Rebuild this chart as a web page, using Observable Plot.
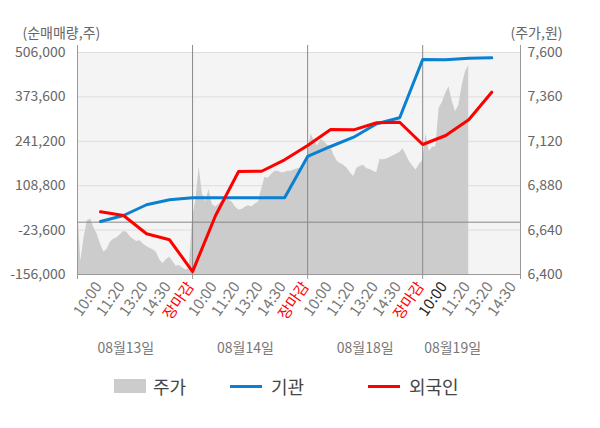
<!DOCTYPE html>
<html><head><meta charset="utf-8">
<script src="https://cdn.jsdelivr.net/npm/d3@7"></script>
<script src="https://cdn.jsdelivr.net/npm/@observablehq/plot@0.6"></script>
<style>
body{margin:0;background:#fff;font-family:"Noto Sans CJK KR","Noto Sans",sans-serif;}
#chart{position:relative;width:600px;height:428px;overflow:hidden;}
.lg{position:absolute;font-size:18px;color:#444;line-height:24px;top:374px;}
.sw{position:absolute;}
</style></head><body><div id="chart"></div>
<script>
const tickLabels = ["10:00","11:20","13:20","14:30","장마감","10:00","11:20","13:20","14:30","장마감","10:00","11:20","13:20","14:30","장마감","10:00","11:20","13:20","14:30"];
const dateLabels = ["08월13일","08월14일","08월18일","08월19일"];
const dateX = [2.1, 7.3, 12.5, 16.3];
const gigwan = [2000, 19900, 52000, 66800, 72700, 72700, 72700, 72700, 72700, 195900, 225700, 253400, 293400, 311300, 485100, 484100, 489000, 490000];
const oegugin = [31000, 20000, -34600, -52500, -147500, 20000, 151100, 151900, 186000, 228700, 276400, 275400, 296400, 298000, 231700, 258500, 305300, 387600];
const priceDay1 = [6784, 6470, 6600, 6690, 6700, 6652, 6618, 6565, 6522, 6535, 6575, 6590, 6598, 6615, 6632, 6628, 6605, 6590, 6578, 6582, 6565, 6552, 6542, 6534, 6520, 6480, 6460, 6480, 6494, 6470, 6445, 6448, 6435, 6424, 6430];
const priceDay2 = [6710, 6800, 6980, 6835, 6792, 6860, 6778, 6765, 6780, 6798, 6810, 6801, 6792, 6766, 6748, 6752, 6763, 6772, 6765, 6780, 6790, 6860, 6925, 6920, 6940, 6958, 6958, 6950, 6952, 6958, 6958, 6966, 6971, 6975, 6980];
const priceDay3 = [7040, 7160, 7125, 7095, 7128, 7120, 7100, 7090, 7045, 7012, 7000, 6990, 6975, 6950, 6930, 6974, 6985, 6990, 6971, 6968, 6958, 6950, 7022, 7020, 7024, 7032, 7040, 7050, 7060, 7080, 7045, 7010, 6985, 6965, 6995];
const priceDay4 = [7016, 7160, 7065, 7088, 7090, 7300, 7330, 7380, 7415, 7335, 7280, 7315, 7420, 7495, 7530];
const leftTicks = [-156000, -23600, 108800, 241200, 373600, 506000];
const rightTicks = [6400, 6640, 6880, 7120, 7360, 7600];

const yMin = leftTicks[0], yMax = leftTicks[leftTicks.length - 1];
const pMin = rightTicks[0], pMax = rightTicks[rightTicks.length - 1];
const toLeft = p => yMin + (p - pMin) * (yMax - yMin) / (pMax - pMin);
const fromLeft = v => pMin + (v - yMin) * (pMax - pMin) / (yMax - yMin);
const fmt = v => Math.round(v).toLocaleString("en-US");
const xMax = 19.25;
const perDay = 35;

const priceData = [];
[priceDay1, priceDay2, priceDay3, priceDay4].forEach((arr, d) => {
  arr.forEach((p, k) => priceData.push({x: 5 * d + k * 5 / perDay, p}));
});
const lineData = (arr) => arr.map((v, i) => ({x: i + 1, v}));
const tickData = tickLabels.map((t, i) => ({
  x: i + 1, t,
  c: t === "장마감" ? "#ff0000" : (i === 15 ? "#222222" : "#777777")
}));
const dateData = dateLabels.map((t, i) => ({x: dateX[i], t}));

const chart = Plot.plot({
  width: 600, height: 360,
  marginTop: 45, marginBottom: 86, marginLeft: 77, marginRight: 80,
  style: {fontFamily: '"Noto Sans CJK KR", sans-serif', fontSize: "14px", background: "transparent"},
  x: {domain: [0, xMax], axis: null},
  y: {domain: [yMin, yMax + 7 * (yMax - yMin) / 222], axis: null},
  marks: [
    Plot.rect([{}], {x1: () => 0, x2: () => xMax, y1: () => yMin, y2: () => yMax, fill: "#f4f4f4"}),
    Plot.ruleY(leftTicks.slice(1), {stroke: "#dddddd", strokeWidth: 1}),
    Plot.areaY(priceData, {x: "x", y1: () => yMin, y2: d => toLeft(d.p), fill: "#cccccc"}),
    Plot.ruleY([0], {stroke: "#888888", strokeWidth: 1}),
    Plot.ruleX([5, 10, 15], {stroke: "#888888", strokeWidth: 1}),
    Plot.ruleX([0, xMax], {stroke: "#999999", strokeWidth: 1}),
    Plot.ruleY([yMin], {stroke: "#999999", strokeWidth: 1}),
    Plot.axisX({ticks: [0, 5, 10, 15, xMax], tickFormat: () => "", tickSize: 5, stroke: "#999999", label: null}),
    Plot.line(lineData(gigwan), {x: "x", y: "v", stroke: "#0a80d0", strokeWidth: 3}),
    Plot.line(lineData(oegugin), {x: "x", y: "v", stroke: "#ff0000", strokeWidth: 3}),
    Plot.axisY({anchor: "left", ticks: leftTicks, tickFormat: fmt, tickSize: 0, tickPadding: 12, fontSize: 14, color: "#666666", label: null}),
    Plot.axisY({anchor: "right", ticks: rightTicks.map(toLeft), tickFormat: v => fmt(fromLeft(v)), tickSize: 0, tickPadding: 7, fontSize: 14, color: "#666666", label: null}),
    Plot.text(tickData, {x: "x", text: "t", fill: "c", frameAnchor: "bottom", dy: 12, dx: 2, rotate: -55, textAnchor: "end", fontSize: 15}),
    Plot.text(dateData, {x: "x", text: "t", frameAnchor: "bottom", dy: 78, fill: "#777777", fontSize: 14}),
    Plot.text(["(순매매량,주)"], {text: d => d, frameAnchor: "top-left", dx: -55, dy: -12, lineAnchor: "middle", textAnchor: "start", fill: "#666666", fontSize: 14}),
    Plot.text(["(주가,원)"], {text: d => d, frameAnchor: "top-right", dx: 42, dy: -12, lineAnchor: "middle", textAnchor: "end", fill: "#666666", fontSize: 14})
  ]
});
const root = document.getElementById("chart");
root.appendChild(chart);

const legend = [
  {label: "주가", kind: "box", color: "#cccccc", x: 114, tx: 153},
  {label: "기관", kind: "line", color: "#0a80d0", x: 230, tx: 271},
  {label: "외국인", kind: "line", color: "#ff0000", x: 368, tx: 409}
];
legend.forEach(l => {
  const s = document.createElement("div");
  s.className = "sw";
  s.style.left = l.x + "px";
  s.style.width = "32px";
  s.style.background = l.color;
  if (l.kind === "box") { s.style.top = "379px"; s.style.height = "14px"; }
  else { s.style.top = "385px"; s.style.height = "3px"; }
  root.appendChild(s);
  const t = document.createElement("div");
  t.className = "lg";
  t.style.left = l.tx + "px";
  t.textContent = l.label;
  root.appendChild(t);
});
</script></body></html>
